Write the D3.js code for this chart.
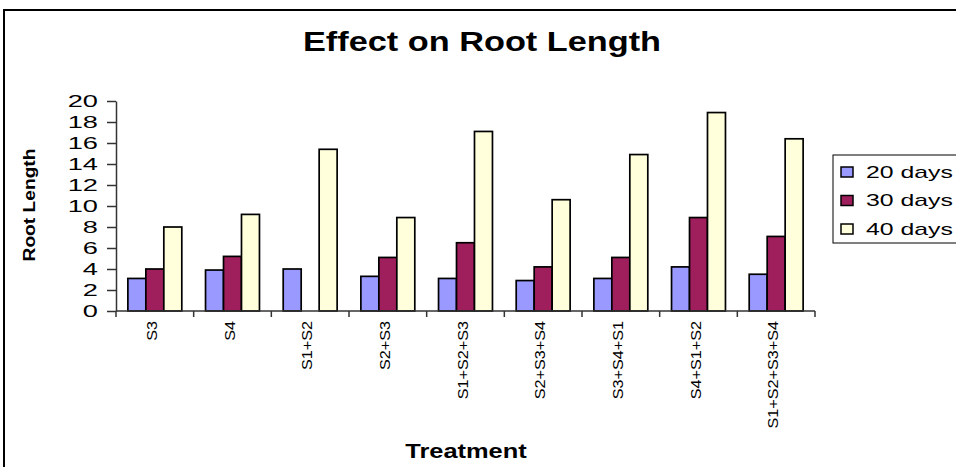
<!DOCTYPE html>
<html>
<head>
<meta charset="utf-8">
<script src="https://cdn.jsdelivr.net/npm/d3@7"></script>
<style>
    html, body { margin: 0; padding: 0; background: #fff; }
    svg { display: block; font-family: "Liberation Sans", Arial, sans-serif; }
</style>
</head>
<body>
<div id="chart"></div>
<script>
(function () {
    "use strict";

    const treatments = ["S3", "S4", "S1+S2", "S2+S3", "S1+S2+S3", "S2+S3+S4", "S3+S4+S1", "S4+S1+S2", "S1+S2+S3+S4"];
    const seriesNames = ["20 days", "30 days", "40 days"];
    const days20 = [3.1, 3.9, 4.0, 3.3, 3.1, 2.9, 3.1, 4.2, 3.5];
    const days30 = [4.0, 5.2, null, 5.1, 6.5, 4.2, 5.1, 8.9, 7.1];
    const days40 = [8.0, 9.2, 15.4, 8.9, 17.1, 10.6, 14.9, 18.9, 16.4];
    const yTicks = [0, 2, 4, 6, 8, 10, 12, 14, 16, 18, 20];
    const colors = ["#9999ff", "#9e1f5c", "#ffffdc"];

    const seriesValues = [days20, days30, days40];

    const width = 956;
    const height = 467;
    const margin = { top: 101, right: 141, bottom: 156, left: 116 };

    const svg = d3.select("#chart").append("svg")
        .attr("width", width)
        .attr("height", height);

    // outer frame, only top and left edges fall inside the picture
    svg.append("rect")
        .attr("x", 4)
        .attr("y", 10)
        .attr("width", 1000)
        .attr("height", 1000)
        .attr("fill", "none")
        .attr("stroke", "#000")
        .attr("stroke-width", 2);

    svg.append("text")
        .attr("transform", "translate(482,51) scale(1.27,1)")
        .attr("text-anchor", "middle")
        .attr("font-size", 27)
        .attr("font-weight", "bold")
        .text("Effect on Root Length");

    const x = d3.scaleBand()
        .domain(treatments)
        .range([margin.left, width - margin.right]);

    const xSub = d3.scaleBand()
        .domain(seriesNames)
        .range([0, x.bandwidth()])
        .paddingOuter(0.66);

    const y = d3.scaleLinear()
        .domain([0, 20])
        .range([height - margin.bottom, margin.top]);

    const canvas = svg.append("g");

    treatments.forEach((t, i) => {
        seriesNames.forEach((s, j) => {
            const v = seriesValues[j][i];
            if (v === null) {
                return;
            }
            canvas.append("rect")
                .attr("x", x(t) + xSub(s))
                .attr("y", y(v))
                .attr("width", xSub.bandwidth())
                .attr("height", y(0) - y(v))
                .attr("fill", colors[j])
                .attr("stroke", "#000")
                .attr("stroke-width", 1.7);
        });
    });

    // y axis
    const yAxis = d3.axisLeft(y)
        .tickValues(yTicks)
        .tickSizeInner(9)
        .tickSizeOuter(0)
        .tickPadding(7);

    const yAxisG = svg.append("g")
        .attr("transform", `translate(${margin.left},0)`)
        .call(yAxis);

    yAxisG.select(".domain").attr("stroke", "#333").attr("stroke-width", 1.5);
    yAxisG.selectAll(".tick line").attr("stroke", "#333").attr("stroke-width", 1.5);
    yAxisG.selectAll(".tick text")
        .attr("font-family", "Liberation Sans, Arial, sans-serif")
        .attr("font-size", 16.5)
        .attr("fill", "#000")
        .attr("x", -18 / 1.65)
        .attr("transform", "scale(1.65,1)");

    // x axis: ticks sit on the category boundaries
    const xAxisG = svg.append("g")
        .attr("transform", `translate(0,${y(0)})`);

    xAxisG.append("line")
        .attr("x1", margin.left)
        .attr("x2", width - margin.right)
        .attr("stroke", "#333")
        .attr("stroke-width", 1.5);

    const boundaries = treatments.map(t => x(t)).concat([x(treatments[treatments.length - 1]) + x.bandwidth()]);
    xAxisG.selectAll(".xtick")
        .data(boundaries)
        .join("line")
        .attr("class", "xtick")
        .attr("x1", d => d)
        .attr("x2", d => d)
        .attr("y1", 0)
        .attr("y2", 6)
        .attr("stroke", "#333")
        .attr("stroke-width", 1.5);

    xAxisG.selectAll(".xlabel")
        .data(treatments)
        .join("text")
        .attr("class", "xlabel")
        .attr("transform", d => `translate(${x(d) + x.bandwidth() / 2 - 3},0) rotate(-90) scale(1.08,1)`)
        .attr("x", -10 / 1.08)
        .attr("dy", "0.35em")
        .attr("text-anchor", "end")
        .attr("font-size", 15)
        .text(d => d);

    // axis titles
    svg.append("text")
        .attr("transform", "translate(35,205) rotate(-90) scale(1.2,1)")
        .attr("text-anchor", "middle")
        .attr("font-size", 16)
        .attr("font-weight", "bold")
        .text("Root Length");

    svg.append("text")
        .attr("transform", "translate(466,458) scale(1.27,1)")
        .attr("text-anchor", "middle")
        .attr("font-size", 20)
        .attr("font-weight", "bold")
        .text("Treatment");

    // legend
    const legend = svg.append("g")
        .attr("transform", "translate(833,155)");

    legend.append("rect")
        .attr("width", 200)
        .attr("height", 88)
        .attr("fill", "#fff")
        .attr("stroke", "#000")
        .attr("stroke-width", 1);

    const rows = legend.selectAll(".row")
        .data(seriesNames)
        .join("g")
        .attr("class", "row")
        .attr("transform", (d, i) => `translate(0,${17 + i * 28.5})`);

    rows.append("rect")
        .attr("x", 8)
        .attr("y", -5)
        .attr("width", 12)
        .attr("height", 10)
        .attr("fill", (d, i) => colors[i])
        .attr("stroke", "#000")
        .attr("stroke-width", 1.5);

    rows.append("text")
        .attr("transform", "translate(33,0) scale(1.55,1)")
        .attr("dy", "0.36em")
        .attr("font-size", 16)
        .text(d => d);
}());
</script>
</body>
</html>
